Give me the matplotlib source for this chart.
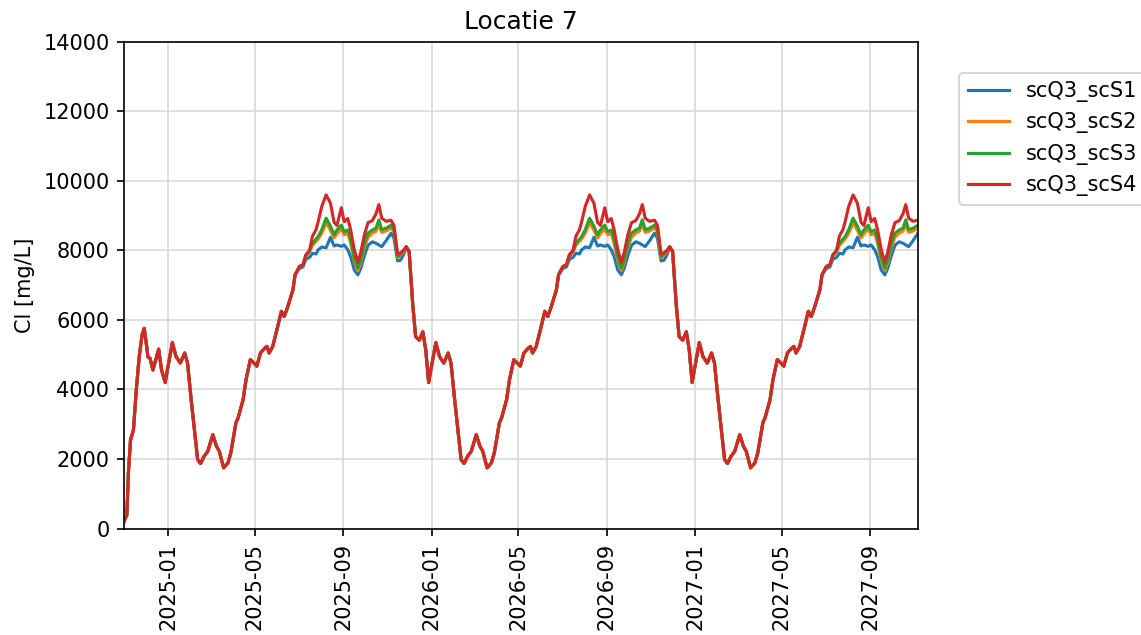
"""
Chloride time series at Locatie 7, four salinity scenarios (scQ3_scS1..S4).
Recreated chart; output written to out.png.
"""
import numpy as np
import matplotlib
matplotlib.use("Agg")
import matplotlib.pyplot as plt
import matplotlib.dates as mdates

# ── Data ────────────────────────────────────────────────────────────────────
# Days are counted from 1 January of the year in question.

# start-up of the run, Nov-Dec 2024 (all four scenarios coincide)
START_DAYS = [-61, -57, -55, -52, -48, -44, -40, -36, -33, -29, -28, -25,
              -21, -16, -13, -9]
START_CL = [200, 400, 1590, 2550, 2830, 3990, 4940, 5570, 5760, 5140, 4940,
            4900, 4560, 4940, 5160, 4560]

# yearly cycle, part where all scenarios coincide (winter / spring)
HEAD_DAYS = [-4, 0, 6, 11, 17, 23, 27, 32, 37, 41, 45, 50, 55, 62, 67, 71,
             77, 83, 87, 94, 97, 104, 108, 114, 119, 123, 128, 134, 137, 140,
             145, 152, 157, 161, 166, 173, 176]
HEAD_CL = [4200, 4670, 5350, 4950, 4760, 5050, 4760, 3710, 2750, 1980, 1870,
           2080, 2220, 2700, 2370, 2220, 1745, 1890, 2180, 3040, 3180, 3710,
           4280, 4860, 4760, 4670, 5050, 5190, 5240, 5050, 5240, 5820, 6250,
           6100, 6390, 6870, 7300]

# yearly cycle, summer / autumn where the scenarios split
SPLIT_DAYS = [182, 187, 191, 196, 200, 205, 208, 213, 219, 225, 230, 234, 240,
              244, 249, 253, 258, 263, 267, 272, 277, 283, 288, 292, 296, 302,
              309, 313, 318, 322, 326, 330, 334]
SPLIT_S1 = [7480, 7530, 7750, 7800, 7920, 7900, 8020, 8100, 8080, 8380, 8130,
            8160, 8120, 8160, 8020, 7820, 7440, 7300, 7490, 7850, 8150, 8250,
            8210, 8160, 8110, 8280, 8500, 8350, 7700, 7720, 7870, 8080, 7970]
SPLIT_S2 = [7540, 7580, 7840, 7960, 8150, 8260, 8330, 8500, 8800, 8580, 8360,
            8480, 8620, 8450, 8500, 8200, 7700, 7420, 7650, 8100, 8380, 8500,
            8550, 8750, 8520, 8560, 8650, 8550, 7790, 7870, 7950, 8100, 7970]
SPLIT_S3 = [7540, 7590, 7860, 7990, 8200, 8330, 8400, 8600, 8930, 8700, 8450,
            8590, 8730, 8540, 8590, 8300, 7800, 7490, 7730, 8200, 8500, 8590,
            8640, 8880, 8600, 8640, 8730, 8600, 7820, 7900, 7980, 8110, 7970]
SPLIT_S4 = [7540, 7590, 7880, 8000, 8410, 8600, 8830, 9270, 9600, 9360, 8810,
            8720, 9230, 8830, 8920, 8590, 8020, 7660, 7950, 8450, 8800, 8860,
            9050, 9320, 8930, 8840, 8870, 8720, 7900, 7930, 8000, 8110, 7970]

# yearly cycle, early-winter drop (all coincide again)
TAIL_DAYS = [339, 343, 348, 353, 357]
TAIL_CL = [6440, 5520, 5420, 5660, 5140]

YEARS = [2025, 2026, 2027]
END_DATE = "2027-11-06"

SERIES = ["scQ3_scS1", "scQ3_scS2", "scQ3_scS3", "scQ3_scS4"]
SPLITS = [SPLIT_S1, SPLIT_S2, SPLIT_S3, SPLIT_S4]
COLORS = ["#1f77b4", "#ff7f0e", "#2ca02c", "#d62728"]


def build_series(split_vals):
    day = np.timedelta64(1, "D")
    dates = [np.datetime64("2025-01-01") + np.array(START_DAYS) * day]
    vals = [np.array(START_CL, dtype=float)]
    cyc_days = np.array(HEAD_DAYS + SPLIT_DAYS + TAIL_DAYS)
    cyc_vals = np.array(HEAD_CL + split_vals + TAIL_CL, dtype=float)
    for yr in YEARS:
        dates.append(np.datetime64(f"{yr}-01-01") + cyc_days * day)
        vals.append(cyc_vals)
    dates = np.concatenate(dates)
    vals = np.concatenate(vals)
    keep = dates <= np.datetime64(END_DATE)
    return dates[keep], vals[keep]


# ── Figure ─────────────────────────────────────────────────────────────────
fig = plt.figure(figsize=(1141 / 150, 635 / 150), dpi=150)
ax = fig.add_axes([0.1087, 0.1677, 0.6959, 0.7662])

for name, split, col in zip(SERIES, SPLITS, COLORS):
    d, v = build_series(split)
    ax.plot(d, v, color=col, lw=1.5, label=name)

ax.set_xlim(np.datetime64("2024-11-01"), np.datetime64(END_DATE))
ax.set_ylim(0, 14000)

ax.xaxis.set_major_locator(mdates.MonthLocator(bymonth=[1, 5, 9]))
ax.xaxis.set_major_formatter(mdates.DateFormatter("%Y-%m"))
plt.setp(ax.get_xticklabels(), rotation=90)

ax.grid(True, color="#d9d9d9", linewidth=0.8)
ax.set_axisbelow(True)

ax.set_title("Locatie 7", fontsize=12)
ax.set_ylabel("Cl [mg/L]")

ax.legend(loc="upper left", bbox_to_anchor=(1.052, 0.937), borderaxespad=0)

fig.savefig("out.png", dpi=150, facecolor="white")
